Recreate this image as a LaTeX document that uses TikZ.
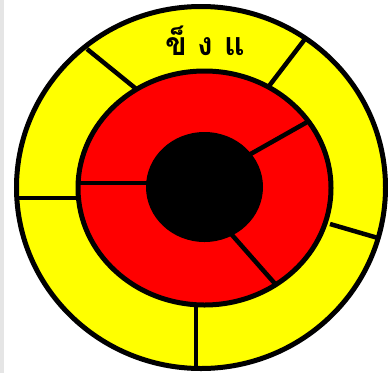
\documentclass[tikz,border=0pt]{standalone}
\usepackage{fontspec}
\newfontfamily\thaifont[Script=Thai]{Loma}
\definecolor{ringyellow}{HTML}{FFFF00}
\definecolor{ringred}{HTML}{FF0000}
\begin{document}
\begin{tikzpicture}[x=1pt,y=-1pt,
  rim/.style={line width=5pt,draw=black},
  divider/.style={line width=4.5pt,draw=black},
  label/.style={font=\thaifont\bfseries\fontsize{32}{32}\selectfont,inner sep=0pt}]
\useasboundingbox (0,0) rectangle (388,373);
\fill[gray!20] (0,0) rectangle (4,373);
% outer yellow ring
\filldraw[rim,fill=ringyellow] (201,187.5) ellipse [x radius=184.5, y radius=181];
% yellow ring dividers
\coordinate (y1a) at (87,49);   \coordinate (y1b) at (140,92);
\coordinate (y2a) at (305,39);  \coordinate (y2b) at (266,90);
\coordinate (y3a) at (330,224); \coordinate (y3b) at (378,238);
\coordinate (y4a) at (196,300); \coordinate (y4b) at (196,368);
\coordinate (y5a) at (16,198);  \coordinate (y5b) at (90,198);
\draw[divider] (y1a) -- (y1b);
\draw[divider] (y2a) -- (y2b);
\draw[divider] (y3a) -- (y3b);
\draw[divider] (y4a) -- (y4b);
\draw[divider] (y5a) -- (y5b);
% red ring
\filldraw[rim,fill=ringred] (204.5,188) ellipse [x radius=126.5, y radius=117];
% red ring dividers
\coordinate (r1a) at (80,183);  \coordinate (r1b) at (160,183);
\coordinate (r2a) at (240,160); \coordinate (r2b) at (309,121);
\coordinate (r3a) at (225,227); \coordinate (r3b) at (277,286);
\draw[divider] (r1a) -- (r1b);
\draw[divider] (r2a) -- (r2b);
\draw[divider] (r3a) -- (r3b);
% black centre
\fill[black] (204.5,187) ellipse [x radius=58.5, y radius=55];
% label
\node[label] (title) at (205,41) {ข็ ง แ};
\end{tikzpicture}
\end{document}
